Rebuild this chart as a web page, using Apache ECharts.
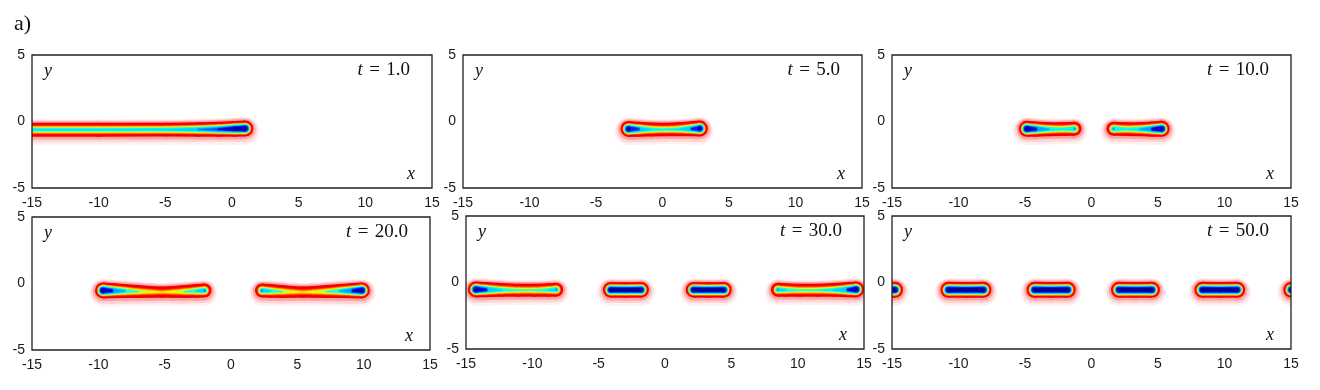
<!DOCTYPE html>
<html>
<head>
<meta charset="utf-8">
<script src="https://cdn.jsdelivr.net/npm/echarts@6/dist/echarts.min.js"></script>
<style>
  html, body { margin: 0; background: #fff; }
  #chart { width: 1320px; height: 390px; }
</style>
</head>
<body>
<div id="chart"></div>
<script>
  // axis ticks and panel times
  const xTicks = [-15, -10, -5, 0, 5, 10, 15]
  const yTicks = [-5, 0, 5]
  const times = ['1.0', '5.0', '10.0', '20.0', '30.0', '50.0']

  // each blob = centre line points [x, y, half width, peak level (0..1)]
  const blobsT1 = [
    [[-16, -0.62, 0.52, 0.64], [-10, -0.62, 0.52, 0.64], [-5, -0.61, 0.52, 0.65], [-2.5, -0.6, 0.54, 0.72],
     [-1, -0.58, 0.56, 0.82], [0.2, -0.55, 0.59, 0.94], [1.0, -0.53, 0.6, 1.0]]
  ]
  const blobsT5 = [
    [[-2.56, -0.56, 0.6, 0.97], [-1.8, -0.58, 0.56, 0.8], [-0.8, -0.6, 0.52, 0.64], [0.2, -0.6, 0.5, 0.6],
     [1.2, -0.58, 0.52, 0.64], [2.2, -0.55, 0.56, 0.8], [2.81, -0.53, 0.6, 0.97]]
  ]
  const blobsT10 = [
    [[-4.87, -0.55, 0.6, 1.0], [-4.2, -0.57, 0.57, 0.86], [-3.2, -0.58, 0.53, 0.68], [-2.2, -0.57, 0.52, 0.62], [-1.28, -0.55, 0.53, 0.72]],
    [[1.65, -0.55, 0.53, 0.72], [2.6, -0.57, 0.52, 0.62], [3.6, -0.58, 0.53, 0.68], [4.6, -0.57, 0.57, 0.86], [5.28, -0.55, 0.6, 1.0]]
  ]
  const blobsT20 = [
    [[-9.65, -0.52, 0.6, 1.0], [-9.0, -0.54, 0.57, 0.86], [-8.0, -0.56, 0.53, 0.68], [-7.0, -0.6, 0.49, 0.57],
     [-6.0, -0.63, 0.45, 0.5], [-5.2, -0.65, 0.42, 0.46], [-4.4, -0.63, 0.45, 0.5], [-3.5, -0.6, 0.49, 0.57],
     [-2.6, -0.56, 0.52, 0.66], [-2.0, -0.53, 0.53, 0.74]],
    [[2.34, -0.53, 0.53, 0.74], [2.95, -0.56, 0.52, 0.66], [3.85, -0.6, 0.49, 0.57], [4.7, -0.63, 0.45, 0.5],
     [5.43, -0.65, 0.42, 0.46], [6.2, -0.63, 0.45, 0.5], [7.2, -0.6, 0.49, 0.57], [8.2, -0.56, 0.53, 0.68],
     [9.2, -0.54, 0.57, 0.86], [9.87, -0.52, 0.6, 1.0]]
  ]
  const blobsT30 = [
    [[-14.26, -0.52, 0.6, 1.0], [-13.5, -0.54, 0.57, 0.84], [-12.3, -0.56, 0.52, 0.65], [-11, -0.58, 0.49, 0.58],
     [-9.8, -0.58, 0.49, 0.58], [-8.8, -0.56, 0.51, 0.64], [-8.2, -0.54, 0.53, 0.72]],
    [[-4.09, -0.55, 0.59, 0.98], [-3.0, -0.56, 0.58, 0.96], [-1.8, -0.55, 0.59, 0.98]],
    [[2.15, -0.55, 0.59, 0.98], [3.3, -0.56, 0.58, 0.96], [4.44, -0.55, 0.59, 0.98]],
    [[8.51, -0.54, 0.53, 0.72], [9.1, -0.56, 0.51, 0.64], [10.2, -0.58, 0.49, 0.58], [11.5, -0.58, 0.49, 0.59],
     [12.7, -0.56, 0.52, 0.66], [13.8, -0.54, 0.57, 0.84], [14.41, -0.52, 0.6, 1.0]]
  ]
  const blobsT50 = [
    [[-16.5, -0.55, 0.6, 1.0], [-14.77, -0.55, 0.6, 1.0]],
    [[-10.76, -0.55, 0.6, 1.0], [-9.44, -0.56, 0.59, 0.98], [-8.12, -0.55, 0.6, 1.0]],
    [[-4.29, -0.55, 0.6, 1.0], [-3.03, -0.56, 0.59, 0.98], [-1.78, -0.55, 0.6, 1.0]],
    [[2.06, -0.55, 0.6, 1.0], [3.3, -0.56, 0.59, 0.98], [4.55, -0.55, 0.6, 1.0]],
    [[8.33, -0.55, 0.6, 1.0], [9.64, -0.56, 0.59, 0.98], [10.96, -0.55, 0.6, 1.0]],
    [[15.02, -0.55, 0.6, 1.0], [16.5, -0.55, 0.6, 1.0]]
  ]
  const panels = [blobsT1, blobsT5, blobsT10, blobsT20, blobsT30, blobsT50]

  // plot boxes in px: left, top, width, height
  const boxes = [
    [32, 55, 400, 133], [463, 55, 399, 133], [892, 55, 399, 133],
    [32, 217, 398, 133], [466, 216, 398, 133], [892, 216, 399, 133]
  ]

  // colour bands: level -> colour (outside red to blue core)
  const bands = [
    [0, '#f00000'], [0.26, '#ff2400'], [0.33, '#ff5a00'], [0.37, '#ff9000'], [0.41, '#ffc400'],
    [0.45, '#fff000'], [0.49, '#c0ff40'], [0.52, '#70ff90'], [0.55, '#20ffd0'], [0.58, '#00f8ff'],
    [0.63, '#00d0ff'], [0.67, '#00a0ff'], [0.71, '#0060ff'], [0.75, '#0020f0'], [0.8, '#0000d0'], [0.86, '#00008c']
  ]
  // how flat the top of each profile is
  const profilePower = 1.3
  // pale halo round each blob: extra width, colour, downward shift
  const halo = [[0.44, '#fff0f0', -0.17], [0.3, '#ffd4d4', -0.11], [0.16, '#ffa2a2', -0.05]]

  function widthAt (p, lv) {
    if (p[3] <= lv) return -1
    return p[2] * Math.pow(1 - lv / p[3], 1 / profilePower)
  }

  function layer (children, pts, widths, color, api, unit) {
    const px = pts.map(p => api.coord([p[0], p[1]]))
    for (let i = 0; i < pts.length; i++) {
      const wa = widths[i]
      if (wa > 0) {
        children.push({ type: 'circle', shape: { cx: px[i][0], cy: px[i][1], r: wa * unit }, style: { fill: color } })
      }
      if (i === pts.length - 1) continue
      const wb = widths[i + 1]
      let a = px[i], b = px[i + 1], ra = wa * unit, rb = wb * unit
      if (wa <= 0 && wb <= 0) continue
      if (wa <= 0 || wb <= 0) {
        // cut where the band vanishes
        const t = wa > 0 ? wa / (wa - wb) : wb / (wb - wa)
        if (wa > 0) { b = [a[0] + (b[0] - a[0]) * t, a[1] + (b[1] - a[1]) * t]; rb = 0 }
        else { a = [b[0] + (a[0] - b[0]) * t, b[1] + (a[1] - b[1]) * t]; ra = 0 }
      }
      children.push({
        type: 'polygon',
        shape: { points: [[a[0], a[1] - ra], [b[0], b[1] - rb], [b[0], b[1] + rb], [a[0], a[1] + ra]] },
        style: { fill: color }
      })
    }
  }

  function makeRender (blobs) {
    return function (params, api) {
      const pts = blobs[api.value(2)]
      // px per y unit
      const unit = Math.abs(api.coord([0, 0])[1] - api.coord([0, 1])[1])
      const children = []
      halo.forEach(([extra, color, dy]) => {
        const shifted = pts.map(p => [p[0], p[1] + dy, p[2], p[3]])
        layer(children, shifted, pts.map(p => p[2] + extra), color, api, unit)
      })
      bands.forEach(([lv, color]) => {
        layer(children, pts, pts.map(p => widthAt(p, lv)), color, api, unit)
      })
      return { type: 'group', children: children }
    }
  }

  const labelFont = { color: '#1a1a1a', fontSize: 14, fontFamily: 'Liberation Sans' }
  const serif = "'Liberation Serif', 'DejaVu Serif', serif"
  const sp = '\u2004'

  const grid = [], xAxis = [], yAxis = [], series = []
  const graphic = [{
    type: 'text', left: 14, top: 13,
    style: { text: 'a)', font: '22px ' + serif, fill: '#111' }
  }]

  boxes.forEach((b, i) => {
    grid.push({ left: b[0], top: b[1], width: b[2], height: b[3] })
    xAxis.push({
      gridIndex: i, type: 'value', min: xTicks[0], max: xTicks[xTicks.length - 1], interval: 5,
      axisLine: { show: false }, axisTick: { show: false }, splitLine: { show: false },
      axisLabel: Object.assign({ margin: 8 }, labelFont)
    })
    yAxis.push({
      gridIndex: i, type: 'value', min: yTicks[0], max: yTicks[yTicks.length - 1], interval: 5,
      axisLine: { show: false }, axisTick: { show: false }, splitLine: { show: false },
      axisLabel: Object.assign({ margin: 7 }, labelFont)
    })
    const blobs = panels[i]
    series.push({
      type: 'custom', xAxisIndex: i, yAxisIndex: i, clip: true, silent: true,
      renderItem: makeRender(blobs),
      data: blobs.map((bl, k) => [bl[0][0], bl[bl.length - 1][0], k])
    })
    const right = b[0] + b[2], bottom = b[1] + b[3]
    // frame drawn above the blobs
    graphic.push({
      type: 'rect', z: 100, silent: true,
      shape: { x: b[0], y: b[1], width: b[2], height: b[3] },
      style: { fill: null, stroke: '#222', lineWidth: 1.3 }
    })
    graphic.push({
      type: 'text', x: right - 22, y: b[1] + 15,
      style: {
        text: '{i|t}' + sp + '=' + sp + times[i], align: 'right', verticalAlign: 'middle',
        font: '19px ' + serif, fill: '#111',
        rich: { i: { fontStyle: 'italic', fontSize: 19, fontFamily: serif } }
      }
    })
    graphic.push({
      type: 'text', x: b[0] + 16, y: b[1] + 16,
      style: { text: 'y', align: 'center', verticalAlign: 'middle', font: 'italic 18px ' + serif, fill: '#111' }
    })
    graphic.push({
      type: 'text', x: right - 21, y: bottom - 14,
      style: { text: 'x', align: 'center', verticalAlign: 'middle', font: 'italic 18px ' + serif, fill: '#111' }
    })
  })

  const chart = echarts.init(document.getElementById('chart'))
  chart.setOption({
    animation: false,
    backgroundColor: '#fff',
    grid: grid,
    xAxis: xAxis,
    yAxis: yAxis,
    series: series,
    graphic: graphic
  })
</script>
</body>
</html>
